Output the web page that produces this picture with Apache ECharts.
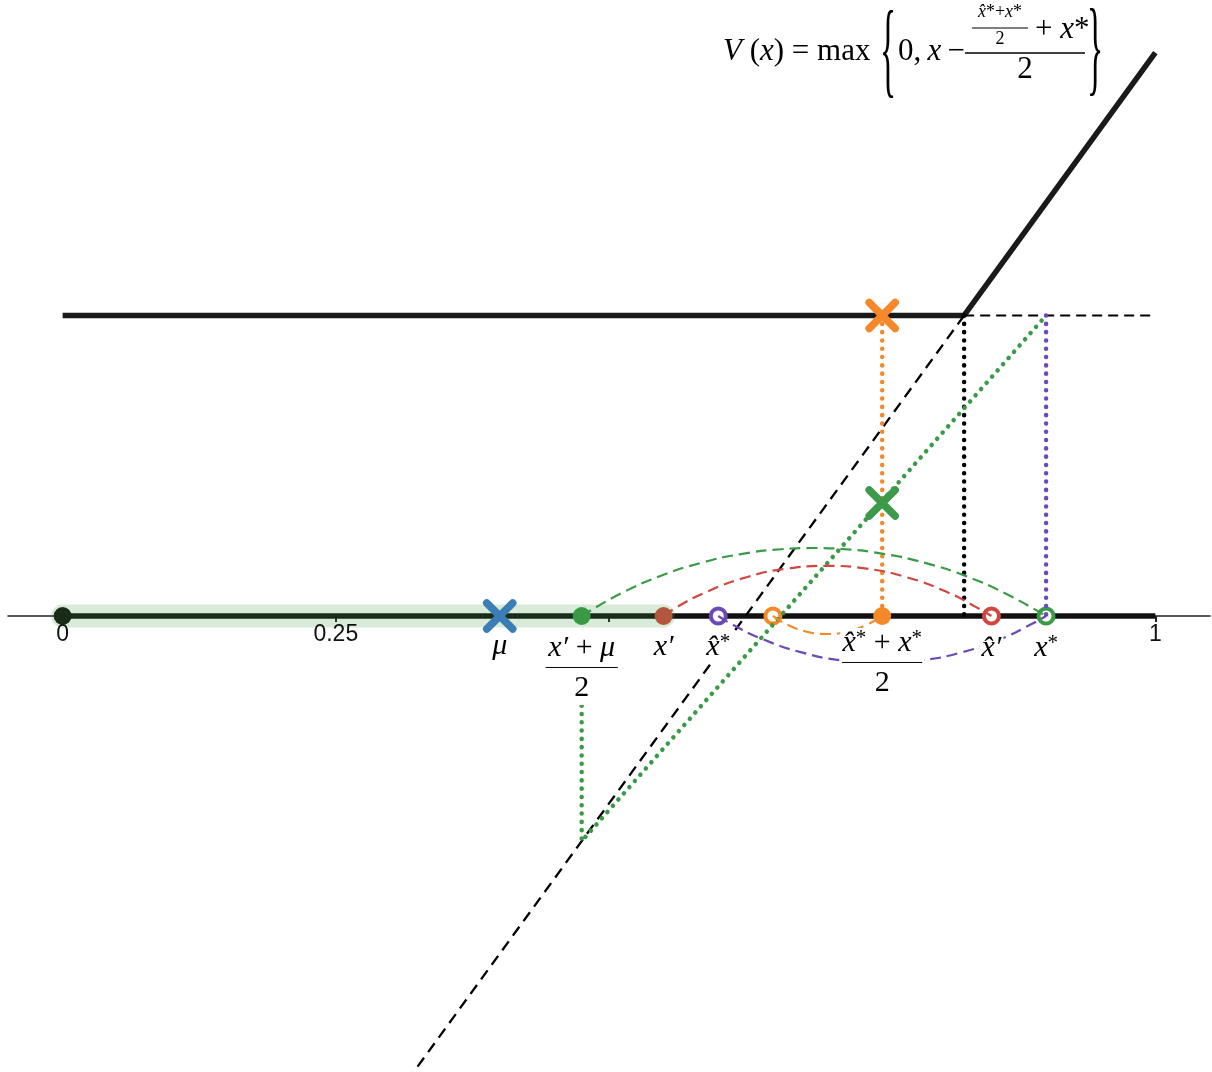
<!DOCTYPE html>
<html>
<head>
<meta charset="utf-8">
<script src="https://cdn.jsdelivr.net/npm/echarts@6/dist/echarts.min.js"></script>
<style>
html, body { margin: 0; padding: 0; background: #fff; }
#chart { width: 1212px; height: 1072px; }
</style>
</head>
<body>
<div id="chart"></div>
<script>
// axis ticks and labels
var tickValues = [0, 0.25, 0.5, 1];
var tickLabelValues = [0, 0.25, 1];

// V(x) and construction lines
var valueLine = [[0, 0.275], [0.825, 0.275], [1, 0.5156]];
var slopeExtension = [[0.825, 0.275], [0.32, -0.419]];
var levelLine = [[0.825, 0.275], [1, 0.275]];
var greenPath = [[0.475, -0.082], [0.475, -0.206], [0.9, 0.275]];
var orangeDrop = [[0.75, 0.275], [0.75, 0]];
var blackDrop = [[0.825, 0.275], [0.825, 0]];
var purpleDrop = [[0.9, 0.275], [0.9, 0]];
var band = [[0, 0], [0.55, 0]];
var axisSegment = [[0, 0], [1, 0]];

// arcs
var greenArc = [[0.475, 0], [0.5113, 0.0208], [0.5476, 0.0368], [0.5842, 0.0486], [0.6208, 0.0566], [0.6574, 0.0611], [0.6867, 0.0622],
    [0.716, 0.0611], [0.7526, 0.0566], [0.7892, 0.0486], [0.8258, 0.0368], [0.8624, 0.0208], [0.9, 0]];
var redArc = [[0.55, 0], [0.5618, 0.0079], [0.5893, 0.0221], [0.6259, 0.0355], [0.6625, 0.0433], [0.699, 0.0458],
    [0.7357, 0.0433], [0.7723, 0.0355], [0.8089, 0.0221], [0.8364, 0.0079], [0.85, 0]];
var orangeArc = [[0.65, 0], [0.6629, -0.0079], [0.6812, -0.0144], [0.6995, -0.0165], [0.7178, -0.0144], [0.7361, -0.0079], [0.75, 0]];
var purpleArc = [[0.6, 0], [0.6122, -0.0074], [0.6396, -0.0208], [0.6762, -0.0333], [0.7128, -0.0406], [0.7494, -0.043],
    [0.786, -0.0406], [0.8226, -0.0333], [0.8592, -0.0208], [0.8867, -0.0074], [0.9, 0]];

// points
var dotPoints = [[0, 0], [0.475, 0], [0.55, 0], [0.75, 0]];
var dotColors = ['#111111', '#3a9a47', '#d0473f', '#f5892a'];
var ringPoints = [[0.6, 0], [0.65, 0], [0.85, 0], [0.9, 0]];
var ringColors = ['#6a4bb5', '#f5892a', '#d0473f', '#3a9a47'];
var crossPoints = [[0.4, 0], [0.75, 0.275], [0.75, 0.1034]];
var crossColors = ['#3b7db5', '#f6882c', '#3d9a4a'];

// point labels
var labelXs = [0.4, 0.475, 0.55, 0.6, 0.75, 0.85, 0.9];
var labelTexts = ['{i|μ}', '{i|x′} + {i|μ}\n{bar1|}\n{d|2}', '{i|x′}', '{i|x̂}{s|*}', '{i|x̂}{s|*} + {i|x}{s|*}\n{bar2|}\n{d|2}', '{i|x̂′}', '{i|x}{s|*}'];
var labelOffsets = [30, 53, 31, 31, 48, 32, 32];

var serif = 'Liberation Serif';
var ink = '#000000';

function path(data, color, width, dash, z, smooth) {
    return {
        type: 'line', data: data, symbol: 'none', smooth: smooth || false, z: z, silent: true,
        lineStyle: { color: color, width: width, type: dash || 'solid', cap: (dash && dash[0] < 1) ? 'round' : 'butt' }
    };
}

function points(data, colors, z, style) {
    return {
        type: 'scatter', z: z, silent: true,
        symbol: style.symbol, symbolSize: style.size,
        data: data.map(function (p, i) {
            var it = { value: p, itemStyle: {} };
            if (style.ring) {
                it.itemStyle = { color: '#fff', borderColor: colors[i], borderWidth: 4, opacity: 1 };
            } else if (style.cross) {
                it.itemStyle = { color: 'rgba(0,0,0,0)', borderColor: colors[i], borderWidth: 7.5, borderCap: 'round', opacity: 1 };
            } else {
                it.itemStyle = { color: colors[i], opacity: 1 };
            }
            return it;
        })
    };
}

var dotted = [0.1, 8.2];
var series = [
    path(axisSegment, '#111', 5.5, null, 2),
    points(ringPoints, ringColors, 3, { symbol: 'circle', size: 15, ring: true }),
    path(valueLine, '#1a1a1a', 5.5, null, 4),
    path(slopeExtension, ink, 2.3, [11, 7], 4),
    path(levelLine, ink, 1.8, [10, 6], 4),
    path(blackDrop, ink, 4.5, dotted, 4),
    path(orangeDrop, '#f5892a', 4.5, dotted, 4),
    path(purpleDrop, '#6a4bb5', 4.5, dotted, 4),
    path(greenPath, '#3a9a47', 4.5, dotted, 4),
    path(greenArc, '#3a9a47', 2.2, [11, 6], 4, true),
    path(redArc, '#d0473f', 2.2, [11, 6], 4, true),
    path(orangeArc, '#f5892a', 2.2, [11, 6], 4, true),
    path(purpleArc, '#6a4bb5', 2.2, [11, 6], 4, true),
    points(dotPoints, dotColors, 5, { symbol: 'circle', size: 18 }),
    {
        type: 'line', data: band, symbol: 'none', z: 6, silent: true,
        lineStyle: { color: 'rgba(60,150,60,0.2)', width: 23, cap: 'round' }
    },
    points(crossPoints, crossColors, 7, { symbol: 'path://M0 0L10 10M10 0L0 10', size: 26, cross: true }),
    {
        // point labels
        type: 'scatter', z: 8, silent: true, symbolSize: 1,
        itemStyle: { color: 'rgba(0,0,0,0)' },
        data: labelXs.map(function (x, i) {
            return {
                value: [x, 0],
                label: {
                    show: true, position: 'inside', offset: [0, labelOffsets[i]],
                    formatter: labelTexts[i],
                    fontFamily: serif, fontSize: 30, lineHeight: 30, color: ink,
                    textBorderWidth: 0, opacity: 1,
                    backgroundColor: '#fff', padding: [0, 2],
                    rich: {
                        i: { fontStyle: 'italic', fontFamily: serif, fontSize: 30, lineHeight: 30, color: ink },
                        s: { fontFamily: serif, fontSize: 21, lineHeight: 24, verticalAlign: 'top', color: ink },
                        d: { fontFamily: serif, fontSize: 30, lineHeight: 33, color: ink },
                        bar1: { width: 72, height: 0, borderWidth: 0.8, borderColor: ink, lineHeight: 9 },
                        bar2: { width: 80, height: 0, borderWidth: 0.8, borderColor: ink, lineHeight: 9 }
                    }
                }
            };
        })
    },
    {
        // axis tick labels
        type: 'scatter', z: 8, silent: true, symbolSize: 1,
        itemStyle: { color: 'rgba(0,0,0,0)' },
        data: tickLabelValues.map(function (v) { return [v, 0]; }),
        label: {
            show: true, position: 'inside', offset: [0, 19],
            formatter: function (p) { return String(p.value[0]); },
            fontFamily: 'Liberation Sans', fontSize: 23, color: '#111', opacity: 1, textBorderWidth: 0
        }
    }
];

function txt(x, y, text, size, align, extra) {
    var el = {
        type: 'text', x: x, y: y, z: 20, silent: true,
        style: {
            text: text, fontFamily: serif, fontSize: size, fill: ink,
            align: align, verticalAlign: 'middle', textAlign: align, textVerticalAlign: 'middle',
            rich: { i: { fontStyle: 'italic', fontFamily: serif, fontSize: size, fill: ink, color: ink } }
        }
    };
    if (extra) { for (var k in extra) { el[k] = extra[k]; } }
    return el;
}

function bar(x1, x2, y, w) {
    return { type: 'line', z: 20, silent: true, shape: { x1: x1, y1: y, x2: x2, y2: y }, style: { stroke: ink, lineWidth: w } };
}

var formula = [
    txt(723, 52, '{i|V} ({i|x}) = max', 31, 'left'),
    txt(888, 56, '{', 42, 'center', { scaleX: 0.8, scaleY: 2.5 }),
    txt(898, 52, '0,\u2009{i|x}\u2009−', 31, 'left'),
    txt(1000, 12, '{i|x̂}*+{i|x}*', 18, 'center'),
    bar(972, 1028, 28, 1),
    txt(1000, 39, '2', 18, 'center'),
    txt(1035, 30, '+ {i|x}*', 31, 'left'),
    bar(965, 1085, 53, 1.3),
    txt(1025, 70, '2', 31, 'center'),
    txt(1095, 54, '}', 42, 'center', { scaleX: 0.8, scaleY: 2.5 })
];

var chart = echarts.init(document.getElementById('chart'));
chart.setOption({
    animation: false,
    backgroundColor: '#fff',
    grid: { left: 8, right: 2, top: 0, bottom: 0, containLabel: false, outerBoundsMode: 'none' },
    xAxis: {
        type: 'value', min: -0.05, max: 1.05,
        splitLine: { show: false },
        axisLine: { show: true, onZero: true, lineStyle: { color: '#222', width: 1.5 } },
        axisTick: { show: true, customValues: tickValues, length: 6, lineStyle: { color: '#222', width: 2 } },
        axisLabel: { show: false }
    },
    yAxis: {
        type: 'value', min: -0.4173, max: 0.5637, show: false,
        splitLine: { show: false }
    },
    graphic: formula,
    series: series
});
</script>
</body>
</html>
